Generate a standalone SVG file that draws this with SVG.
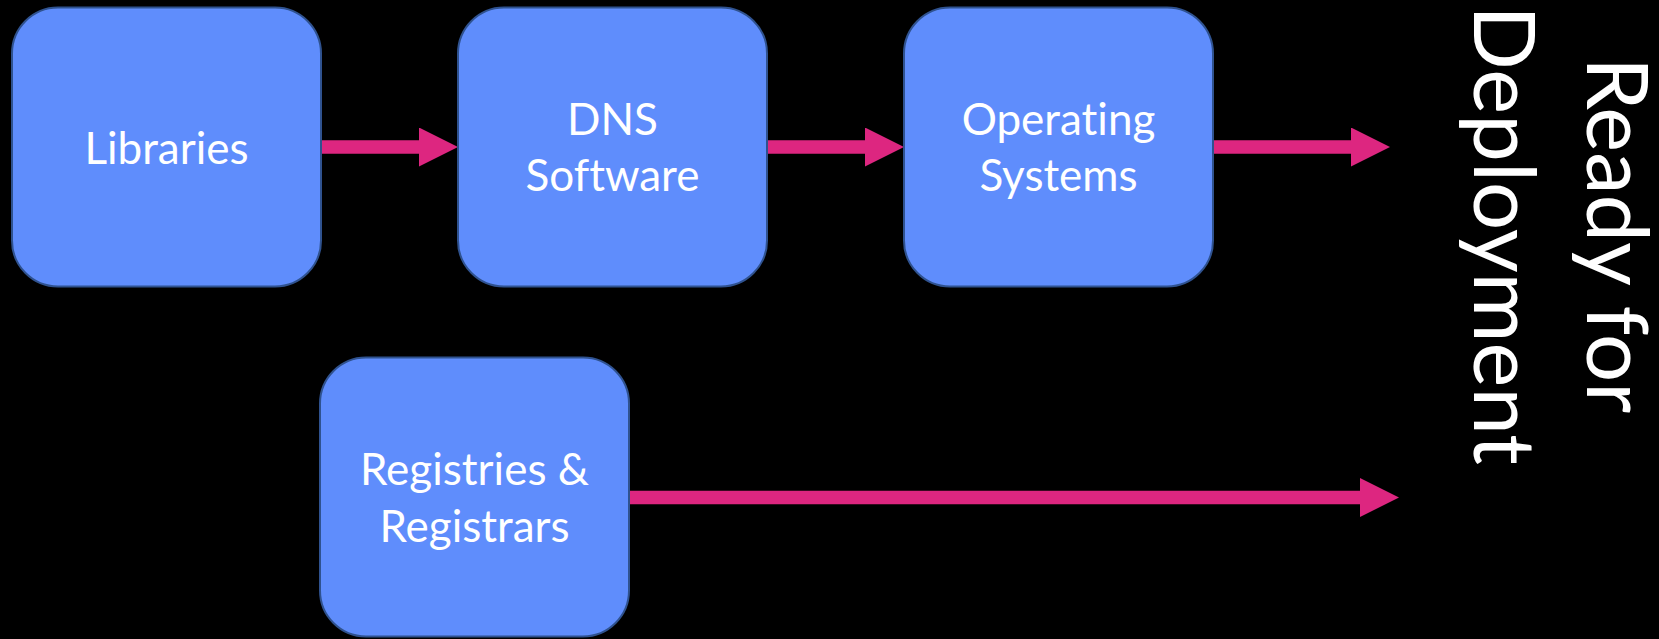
<svg xmlns="http://www.w3.org/2000/svg" width="1659" height="639" viewBox="0 0 1659 639">
<style>
.box{fill:#5F8DFC;stroke:#2F528F;stroke-width:2}
.lbl{fill:#FFFFFF;font-family:Lato,"Open Sans","Liberation Sans",sans-serif;font-size:44px;text-anchor:middle;font-variant-ligatures:none}
.big{fill:#FFFFFF;font-family:Lato,"Open Sans","Liberation Sans",sans-serif;font-size:85px;text-anchor:middle;font-variant-ligatures:none}
.conn{stroke:#DD2680;stroke-width:13.5;fill:none;marker-end:url(#ah)}
</style>
<defs>
<marker id="ah" markerUnits="userSpaceOnUse" markerWidth="40" markerHeight="40" refX="0" refY="19.5" orient="auto" viewBox="0 0 40 40">
<path d="M0,0 L39,19.5 L0,39 z" fill="#DD2680"/>
</marker>
</defs>
<rect width="1659" height="639" fill="#000000"/>
<g id="connectors">
<line class="conn" x1="321" y1="147" x2="419" y2="147"/>
<line class="conn" x1="767" y1="147" x2="865" y2="147"/>
<line class="conn" x1="1213" y1="147" x2="1351" y2="147"/>
<line class="conn" x1="629" y1="497.5" x2="1360" y2="497.5"/>
</g>
<g id="libraries">
<rect class="box" x="12" y="7.5" width="309" height="279" rx="46"/>
<text class="lbl" x="166.5" y="164">Libraries</text>
</g>
<g id="dns-software">
<rect class="box" x="458" y="7.5" width="309" height="279" rx="46"/>
<text class="lbl" x="612.5" y="135">DNS</text>
<text class="lbl" x="612.5" y="191">Software</text>
</g>
<g id="operating-systems">
<rect class="box" x="904" y="7.5" width="309" height="279" rx="46"/>
<text class="lbl" x="1058.5" y="135">Operating</text>
<text class="lbl" x="1058.5" y="191">Systems</text>
</g>
<g id="registries">
<rect class="box" x="320" y="357.5" width="309" height="279" rx="46"/>
<text class="lbl" x="474.5" y="485">Registries &amp;</text>
<text class="lbl" x="474.5" y="541.5">Registrars</text>
</g>
<g id="ready">
<text class="big" transform="translate(1587,235) rotate(90)"><tspan x="0" y="0">Ready for</tspan><tspan x="0" y="113">Deployment</tspan></text>
</g>
</svg>
